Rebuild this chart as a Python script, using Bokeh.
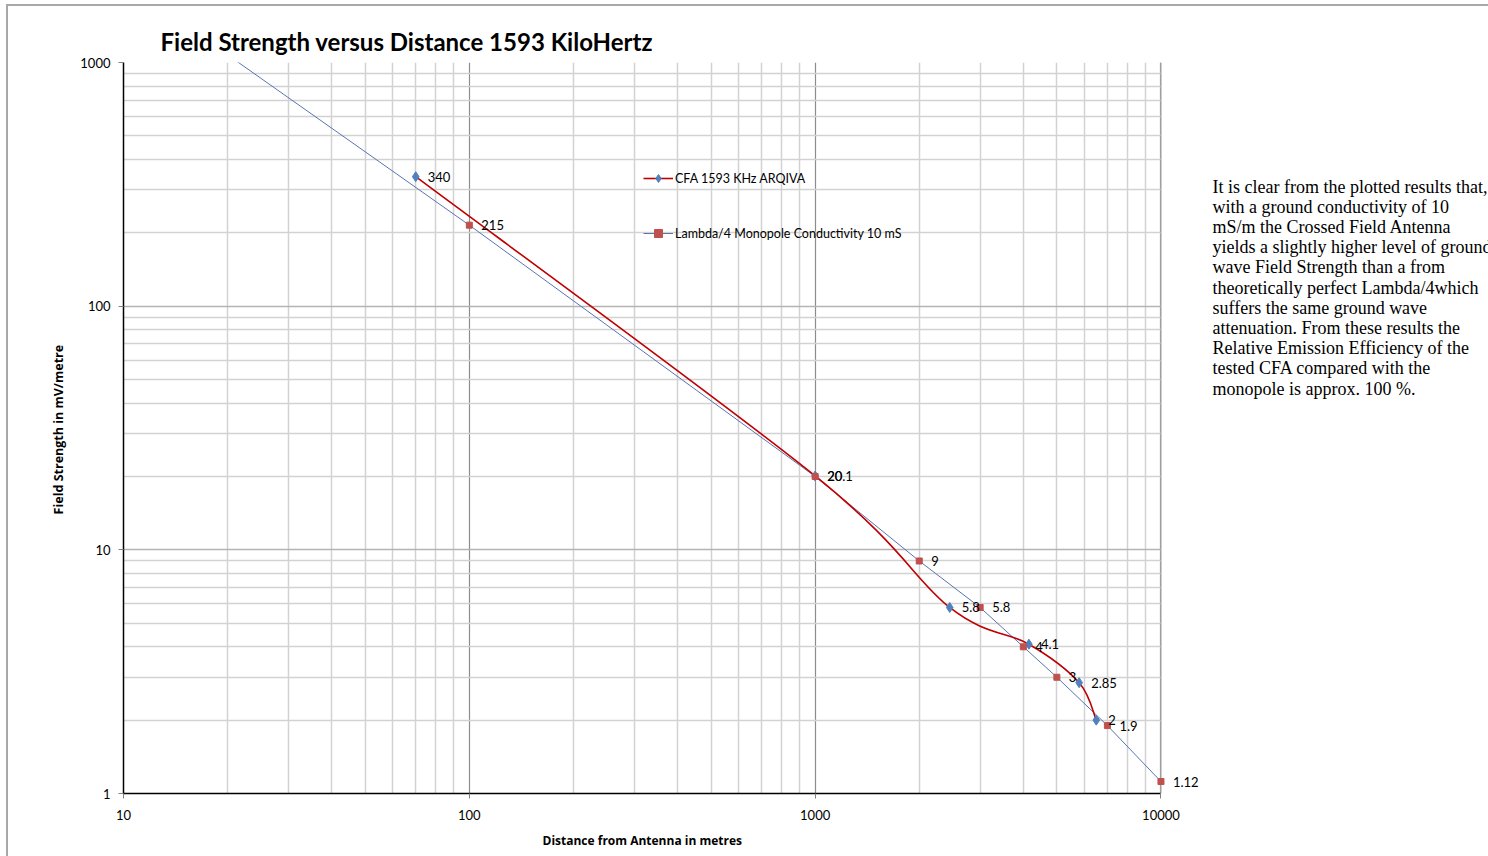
import numpy as np
from bokeh.plotting import figure
from bokeh.layouts import row
from bokeh.models import (ColumnDataSource, FixedTicker, NumeralTickFormatter,
                          LabelSet, Legend, LegendItem, BoxAnnotation, Span, Title)
from bokeh.core.properties import value
from bokeh.embed import file_html
from bokeh.resources import INLINE

# Measured CFA field strength (mV/m) against distance (m)
cfa_dist = [70, 1000, 2450, 4150, 5800, 6500]
cfa_field = [340, 20.1, 5.8, 4.1, 2.85, 2]
cfa_text = ["340", "20.1", "5.8", "4.1", "2.85", "2"]

# Lambda/4 monopole reference curve, 10 mS/m ground
mono_dist = [20, 100, 1000, 2000, 3000, 4000, 5000, 7000, 10000]
mono_field = [1075, 215, 20, 9, 5.8, 4, 3, 1.9, 1.12]
mono_text = ["", "215", "20", "9", "5.8", "4", "3", "1.9", "1.12"]

x_major = [10, 100, 1000, 10000]
y_major = [1, 10, 100, 1000]

title_text = "Field Strength versus Distance  1593 KiloHertz"
note_lines = [
    "It is clear from the plotted results that,",
    "with a ground conductivity of 10",
    "mS/m  the Crossed Field Antenna",
    "yields a slightly higher level of ground",
    "wave Field Strength than a from",
    "theoretically perfect  Lambda/4which",
    "suffers the same ground wave",
    "attenuation. From these results  the",
    "Relative Emission Efficiency of the",
    "tested CFA compared with the",
    "monopole is approx. 100 %.",
]

FONT = "Lato"
RED = "#c00000"
MONO_LINE = "#5a74b0"
DIAMOND = "#4f81bd"
SQUARE = "#c0504d"

# x range runs a little past 10000 so the end label has room
p = figure(width=1203, height=850, x_axis_type="log", y_axis_type="log",
           x_range=(10, 14000), y_range=(1, 1000),
           output_backend="svg", toolbar_location=None,
           min_border_left=115, min_border_right=0,
           min_border_top=56, min_border_bottom=63)
p.background_fill_color = "white"
p.border_fill_color = "white"
p.outline_line_color = None

def minor_of(majors):
    out = []
    for m in majors[:-1]:
        out += [m * k for k in range(2, 10)]
    return out

p.xaxis.ticker = FixedTicker(ticks=x_major, minor_ticks=minor_of(x_major))
p.yaxis.ticker = FixedTicker(ticks=y_major, minor_ticks=minor_of(y_major))
p.xaxis.bounds = (x_major[0], x_major[-1])
for ax in (p.xaxis, p.yaxis):
    ax.formatter = NumeralTickFormatter(format="0")
    ax.axis_line_color = "black"
    ax.axis_line_width = 1.5
    ax.major_tick_line_color = "#808080"
    ax.major_tick_out = 5
    ax.major_tick_in = 0
    ax.minor_tick_out = 0
    ax.minor_tick_in = 0
    ax.major_label_text_font = FONT
    ax.major_label_text_font_size = "13px"
    ax.major_label_text_color = "black"

p.xaxis.major_label_standoff = 11
p.yaxis.major_label_standoff = 8
p.yaxis.axis_label = "Field  Strength in mV/metre"
p.yaxis.axis_label_standoff = 10
p.yaxis.axis_label_text_font = "Open Sans"
p.yaxis.axis_label_text_font_style = "bold"
p.yaxis.axis_label_text_font_size = "12.5px"
p.yaxis.axis_label_text_color = "black"

p.xgrid.grid_line_color = "#8c8c8c"
p.ygrid.grid_line_color = "#b4b4b4"
p.xgrid.grid_line_width = 1.2
p.ygrid.grid_line_width = 1.5
p.xgrid.minor_grid_line_color = "#d2d2d2"
p.ygrid.minor_grid_line_color = "#d2d2d2"
p.xgrid.minor_grid_line_width = 1.5
p.ygrid.minor_grid_line_width = 1.5

# blank margin right of 10000 with the plot-area edge line
p.add_layout(BoxAnnotation(left=x_major[-1], fill_color="white", fill_alpha=1,
                           line_alpha=0, level="underlay"))
p.add_layout(Span(location=x_major[-1], dimension="height", line_color="#a8a8a8",
                  line_width=1.2, level="underlay"))

# Monopole: straight segments with square markers
mono_src = ColumnDataSource(dict(x=mono_dist, y=mono_field, t=mono_text))
mono_line = p.line("x", "y", source=mono_src, line_color=MONO_LINE, line_width=1)

# CFA: smoothed curve (Catmull-Rom in log-log space, drawn as cubic beziers)
lx = np.log10(cfa_dist)
ly = np.log10(cfa_field)
n = len(lx)
seg = dict(x0=[], y0=[], x1=[], y1=[], cx0=[], cy0=[], cx1=[], cy1=[])
for i in range(n - 1):
    a = max(i - 1, 0)
    b = min(i + 2, n - 1)
    c0x = lx[i] + (lx[i + 1] - lx[a]) / 6
    c0y = ly[i] + (ly[i + 1] - ly[a]) / 6
    c1x = lx[i + 1] - (lx[b] - lx[i]) / 6
    c1y = ly[i + 1] - (ly[b] - ly[i]) / 6
    seg["x0"].append(10 ** lx[i]); seg["y0"].append(10 ** ly[i])
    seg["x1"].append(10 ** lx[i + 1]); seg["y1"].append(10 ** ly[i + 1])
    seg["cx0"].append(10 ** c0x); seg["cy0"].append(10 ** c0y)
    seg["cx1"].append(10 ** c1x); seg["cy1"].append(10 ** c1y)
cfa_curve = p.bezier(source=ColumnDataSource(seg), x0="x0", y0="y0", x1="x1", y1="y1",
                     cx0="cx0", cy0="cy0", cx1="cx1", cy1="cy1",
                     line_color=RED, line_width=1.6)

cfa_src = ColumnDataSource(dict(x=cfa_dist, y=cfa_field, t=cfa_text))
cfa_pts = p.scatter("x", "y", source=cfa_src, marker="diamond", size=10,
                    fill_color=DIAMOND, line_color=DIAMOND)
mono_pts = p.scatter("x", "y", source=mono_src, marker="square", size=6,
                     fill_color=SQUARE, line_color=SQUARE)

# Value labels beside each point
for src in (cfa_src, mono_src):
    p.add_layout(LabelSet(x="x", y="y", text="t", source=src, x_offset=12,
                          text_baseline="middle", text_font=value(FONT),
                          text_font_size="13px", text_color="black"))

leg = Legend(items=[
    LegendItem(label="CFA 1593 KHz ARQIVA", renderers=[cfa_curve, cfa_pts]),
    LegendItem(label="Lambda/4 Monopole Conductivity 10 mS", renderers=[mono_line, mono_pts]),
], location=(520, 550))
leg.border_line_color = None
leg.background_fill_alpha = 0
leg.padding = 0
leg.margin = 0
leg.spacing = 35
leg.glyph_width = 30
leg.glyph_height = 20
leg.label_height = 20
leg.label_standoff = 2
leg.label_text_font = FONT
leg.label_text_font_size = "12.5px"
leg.label_text_color = "black"
p.add_layout(leg)

# Chart title
p.title.text = title_text
p.title.align = "left"
p.title.offset = 37
p.title.standoff = 13
p.title.text_font = FONT
p.title.text_font_style = "bold"
p.title.text_font_size = "24px"
p.title.text_color = "black"

# x-axis caption, centred under the 10..10000 span
p.add_layout(Title(text="Distance from Antenna in metres", align="left", offset=419,
                   standoff=15, text_font="Open Sans", text_font_style="bold",
                   text_font_size="12px", text_color="black"), "below")

# Explanatory note to the right of the chart (y measured downward, same frame rows)
note = figure(width=277, height=850, x_range=(0, 277), y_range=(793, 62),
              output_backend="svg", toolbar_location=None,
              x_axis_location=None, y_axis_location=None, min_border=0)
note.outline_line_color = None
note.xgrid.visible = False
note.ygrid.visible = False
note.background_fill_color = "white"
note.border_fill_color = "white"
line_no = np.arange(len(note_lines))
note.text(x=np.full(len(note_lines), 1.0), y=186 + 20.2 * line_no, text=note_lines,
          text_align="left", text_baseline="middle",
          text_font=value("Liberation Serif"), text_font_size="18px", text_color="black")

layout = row(p, note, margin=(4, 0, 0, 6),
             styles={"border-top": "2px solid #a8a8a8", "border-left": "2px solid #a8a8a8"})

open("out.html", "w").write(file_html(layout, INLINE))
